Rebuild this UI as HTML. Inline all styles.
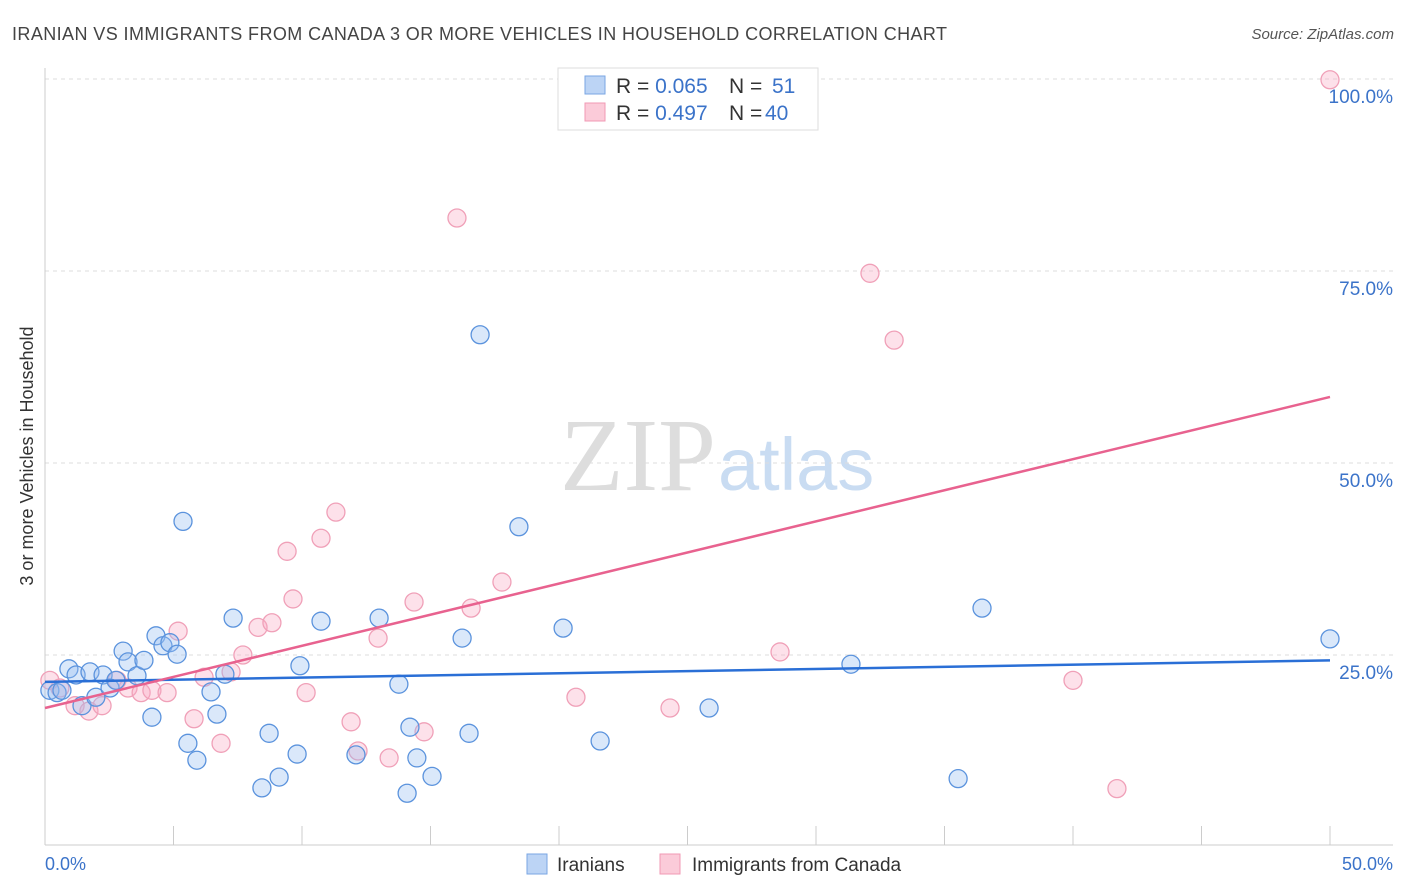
<!DOCTYPE html>
<html><head><meta charset="utf-8"><style>
body{margin:0;background:#fff;font-family:"Liberation Sans",sans-serif;}
</style></head><body>
<svg width="1406" height="892" style="display:block">
<text x="12" y="40" font-size="18" fill="#444" textLength="935">IRANIAN VS IMMIGRANTS FROM CANADA 3 OR MORE VEHICLES IN HOUSEHOLD CORRELATION CHART</text>
<text x="1394" y="39" font-size="15" fill="#555" font-style="italic" text-anchor="end">Source: ZipAtlas.com</text>
<text x="716" y="490" font-size="104" fill="#ddd" font-family="Liberation Serif" text-anchor="end">ZIP</text>
<text x="718" y="490" font-size="74" fill="#c9dcf2">atlas</text>
<g id="grid"></g>
<line x1="45" y1="68" x2="45" y2="845" stroke="#ccc"/>
<line x1="45" y1="845" x2="1393" y2="845" stroke="#ccc"/>
<g id="xticks"></g>
<text x="33" y="456" font-size="18" fill="#333" text-anchor="middle" transform="rotate(-90 33 456)">3 or more Vehicles in Household</text>
<text x="45" y="870" font-size="18" fill="#3b73c9">0.0%</text>
<text x="1393" y="870" font-size="18" fill="#3b73c9" text-anchor="end">50.0%</text>
<g id="pts"></g>
<g id="lines"></g>
<g>
<rect x="558" y="68" width="260" height="62" fill="#fff" stroke="#ddd"/>
<rect x="585" y="76" width="20" height="18" fill="#bcd4f5" stroke="#7aa6e3"/>
<rect x="585" y="103" width="20" height="18" fill="#fbcbd9" stroke="#f09ab4"/>
<text x="616" y="93" font-size="21" fill="#333">R = <tspan fill="#3b73c9">0.065</tspan><tspan x="729">N = </tspan><tspan x="772" fill="#3b73c9">51</tspan></text>
<text x="616" y="120" font-size="21" fill="#333">R = <tspan fill="#3b73c9">0.497</tspan><tspan x="729">N = </tspan><tspan x="765" fill="#3b73c9">40</tspan></text>
</g>
<g>
<rect x="527" y="854" width="20" height="20" fill="#bcd4f5" stroke="#7aa6e3"/>
<text x="557" y="871" font-size="19" fill="#333">Iranians</text>
<rect x="660" y="854" width="20" height="20" fill="#fbcbd9" stroke="#f09ab4"/>
<text x="692" y="871" font-size="19" fill="#333">Immigrants from Canada</text>
</g>
</svg>
<script>
const yTicks=[25,50,75,100];
const yTickLabels=["25.0%","50.0%","75.0%","100.0%"];
const xTicks=[0,5,10,15,20,25,30,35,40,45,50];
const blueX=[0.19,0.47,0.66,0.93,1.21,1.44,1.75,1.98,2.26,2.53,2.76,3.04,3.23,3.58,3.85,4.16,4.32,4.59,4.86,5.14,5.37,5.56,5.91,6.46,6.69,7.0,7.32,8.72,8.44,9.11,9.81,9.92,10.74,12.1,13.0,13.77,14.2,14.47,14.09,15.06,16.23,16.5,16.93,18.44,20.16,21.6,25.84,31.36,35.53,36.46,50];
const blueY=[20.4,20.1,20.4,23.2,22.4,18.4,22.8,19.5,22.4,20.7,21.7,25.5,24.1,22.3,24.3,16.9,27.5,26.2,26.6,25.1,42.4,13.5,11.3,20.2,17.3,22.5,29.8,14.8,7.7,9.1,12.1,23.6,29.4,12.0,29.8,21.2,15.6,11.6,7.0,9.2,27.2,14.8,66.7,41.7,28.5,13.8,18.1,23.8,8.9,31.1,27.1];
const pinkX=[0.19,0.58,1.17,1.71,2.22,2.8,3.23,3.74,4.16,4.75,5.18,5.8,6.19,6.85,7.24,7.7,8.29,8.83,9.42,9.65,10.16,10.74,11.32,11.91,12.18,12.96,13.39,14.36,14.75,16.03,16.58,17.78,20.66,24.32,28.6,32.1,33.04,40.0,41.71,50];
const pinkY=[21.7,20.7,18.4,17.7,18.4,21.7,20.7,20.1,20.4,20.1,28.1,16.7,22.1,13.5,22.8,25.0,28.6,29.2,38.5,32.3,20.1,40.2,43.6,16.3,12.5,27.2,11.6,31.9,15.0,81.9,31.1,34.5,19.5,18.1,25.4,74.7,66.0,21.7,7.6,99.9];
const blueTrend=[21.5,24.3];
const pinkTrend=[18.1,58.6];
const NS='http://www.w3.org/2000/svg';
const sx=v=>45+v*25.7, sy=v=>847-v*7.68;
function mk(tag,attrs,parent){const e=document.createElementNS(NS,tag);for(const k in attrs)e.setAttribute(k,attrs[k]);document.getElementById(parent).appendChild(e);return e;}
yTicks.forEach((t,i)=>{
 const l=mk('line',{x1:45,x2:1393,y1:sy(t),y2:sy(t),stroke:'#ddd','stroke-dasharray':'4,4'},'grid');
 
 
 const tx=mk('text',{x:1393,y:sy(t)+24,'font-size':19,fill:'#3b73c9','text-anchor':'end'},'grid');
 tx.textContent=yTickLabels[i];
 
 
});
xTicks.forEach(t=>{
 const l=mk('line',{x1:sx(t),x2:sx(t),y1:826,y2:845,stroke:'#ccc'},'xticks');
 
 
});
function pts(xs,ys,fill,stroke,name){xs.forEach((x,i)=>{
 const c=mk('circle',{cx:sx(x),cy:sy(ys[i]),r:9,fill:fill,stroke:stroke,'stroke-width':1.3},'pts');
 
 
});}
pts(pinkX,pinkY,'rgba(248,170,195,0.35)','#f0a0b8','canada-point');
pts(blueX,blueY,'rgba(150,190,240,0.35)','#5b93dd','iranian-point');
const bl=mk('line',{x1:sx(0),x2:sx(50),y1:sy(blueTrend[0]),y2:sy(blueTrend[1]),stroke:'#2a6fd6','stroke-width':2.5},'lines');


const pl=mk('line',{x1:sx(0),x2:sx(50),y1:sy(pinkTrend[0]),y2:sy(pinkTrend[1]),stroke:'#e8628f','stroke-width':2.5},'lines');


</script>
</body></html>
